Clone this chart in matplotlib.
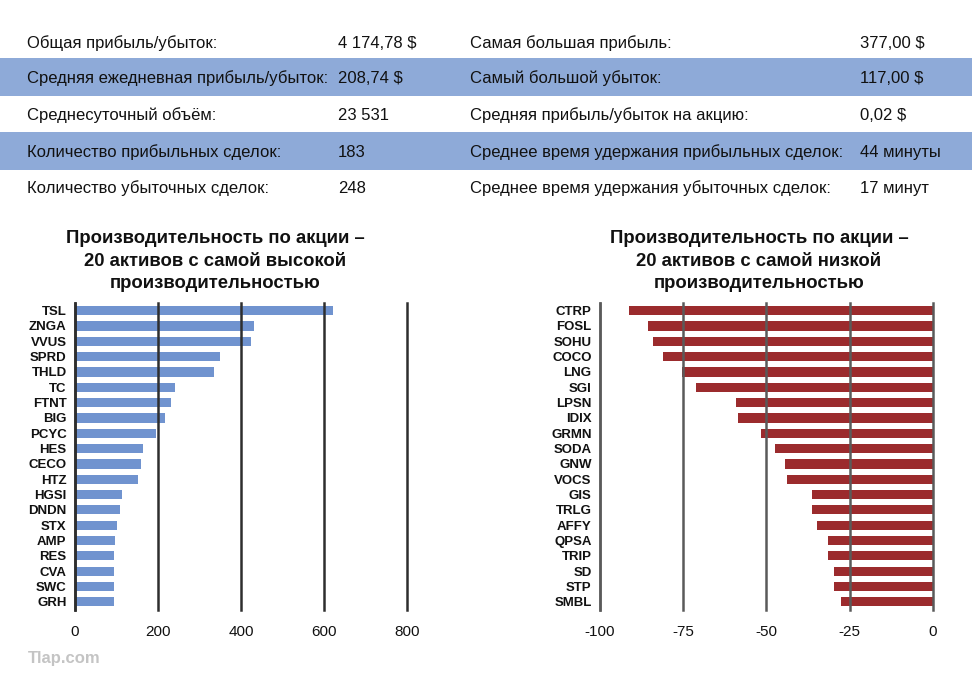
import matplotlib
matplotlib.use("Agg")
import matplotlib.pyplot as plt
from matplotlib.patches import Rectangle

plt.rcParams['font.family'] = ['Liberation Sans', 'DejaVu Sans']

# ---- data ----
stat_left_labels = ["Общая прибыль/убыток:", "Средняя ежедневная прибыль/убыток:",
                    "Среднесуточный объём:", "Количество прибыльных сделок:",
                    "Количество убыточных сделок:"]
stat_left_values = ["4 174,78 $", "208,74 $", "23 531", "183", "248"]
stat_right_labels = ["Самая большая прибыль:", "Самый большой убыток:",
                     "Средняя прибыль/убыток на акцию:",
                     "Среднее время удержания прибыльных сделок:",
                     "Среднее время удержания убыточных сделок:"]
stat_right_values = ["377,00 $", "117,00 $", "0,02 $", "44 минуты", "17 минут"]

top_tickers = ["TSL", "ZNGA", "VVUS", "SPRD", "THLD", "TC", "FTNT", "BIG", "PCYC", "HES",
               "CECO", "HTZ", "HGSI", "DNDN", "STX", "AMP", "RES", "CVA", "SWC", "GRH"]
top_values = [622, 431, 425, 349, 334, 242, 232, 218, 194, 164,
              158, 152, 113, 108, 101, 97, 95, 95, 95, 95]

low_tickers = ["CTRP", "FOSL", "SOHU", "COCO", "LNG", "SGI", "LPSN", "IDIX", "GRMN", "SODA",
               "GNW", "VOCS", "GIS", "TRLG", "AFFY", "QPSA", "TRIP", "SD", "STP", "SMBL"]
low_values = [-91.2, -85.6, -84.0, -81.1, -75.5, -71.0, -59.1, -58.4, -51.7, -47.4,
              -44.4, -43.7, -36.2, -36.3, -34.8, -31.6, -31.5, -29.7, -29.8, -27.6]

top_title = "Производительность по акции –\n20 активов с самой высокой\nпроизводительностью"
low_title = "Производительность по акции –\n20 активов с самой низкой\nпроизводительностью"
top_ticks = [0, 200, 400, 600, 800]
low_ticks = [-100, -75, -50, -25, 0]

W, H = 972, 686
fig = plt.figure(figsize=(W / 100, H / 100), dpi=100)
fig.patch.set_facecolor('white')

def fy(py):
    return 1 - py / H

def fx(px):
    return px / W

# ---- stats table ----
band_color = '#8eaad8'
row_y = [42, 77, 114, 151, 187]
for i in (1, 3):
    top = row_y[i] - 18.5
    fig.patches.append(Rectangle((0, fy(top + 37)), 1, 37 / H, transform=fig.transFigure,
                                 facecolor=band_color, edgecolor='none', zorder=0))
for i in range(5):
    y = fy(row_y[i] + 6)
    fig.text(fx(27), y, stat_left_labels[i], fontsize=12, va='baseline', ha='left', color='#111')
    fig.text(fx(338), y, stat_left_values[i], fontsize=12, va='baseline', ha='left', color='#111')
    fig.text(fx(470), y, stat_right_labels[i], fontsize=12, va='baseline', ha='left', color='#111')
    fig.text(fx(860), y, stat_right_values[i], fontsize=12, va='baseline', ha='left', color='#111')

# ---- charts ----
ax_top_px, ax_bot_px = 303, 609.5
axL = fig.add_axes([fx(75), fy(ax_bot_px), fx(407) - fx(75), (ax_bot_px - ax_top_px) / H])
axR = fig.add_axes([fx(600), fy(ax_bot_px), fx(932.7) - fx(600), (ax_bot_px - ax_top_px) / H])

def style(ax, tickers, values, color, ticks, xlim, gridc, spinec):
    ypos = list(range(len(tickers)))
    ax.barh(ypos, values, height=0.6, color=color, zorder=1)
    ax.set_yticks(ypos)
    ax.set_yticklabels(tickers, fontsize=9.5, fontweight='bold', color='#111')
    ax.set_ylim(len(tickers) - 0.5, -0.5)
    ax.set_xlim(*xlim)
    ax.set_xticks(ticks)
    ax.set_xticklabels([str(t) for t in ticks], fontsize=11, color='#111')
    ax.tick_params(axis='both', length=0)
    ax.tick_params(axis='x', pad=11)
    ax.tick_params(axis='y', pad=6)
    ax.set_axisbelow(False)
    ax.xaxis.grid(True, color=gridc, linewidth=1.8)
    for gl in ax.get_xgridlines():
        gl.set_clip_on(False)
    for s in ('top', 'right', 'bottom'):
        ax.spines[s].set_visible(False)
    ax.spines['left'].set_color(spinec)
    ax.spines['left'].set_linewidth(1.8)
    ax.set_facecolor('none')

style(axL, top_tickers, top_values, '#7093cf', top_ticks, (0, 800), '#2e2e2e', '#222222')
style(axR, low_tickers, low_values, '#9b2b2d', low_ticks, (-100, 0), '#5a5a5a', '#6a6a6a')

fig.text(fx(215), fy(261), top_title, fontsize=13.3, fontweight='bold', ha='center', va='center',
         linespacing=1.42, color='#111')
fig.text(fx(759), fy(261), low_title, fontsize=13.3, fontweight='bold', ha='center', va='center',
         linespacing=1.42, color='#111')

fig.text(fx(28), fy(658), "Tlap.com", fontsize=12, fontweight='bold', ha='left', va='center',
         color='#c4c4c4')

fig.savefig("out.png", dpi=100)
